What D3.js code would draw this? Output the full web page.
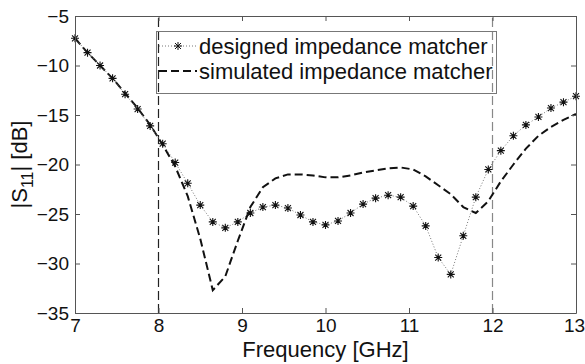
<!DOCTYPE html>
<html>
<head>
<meta charset="utf-8">
<script src="https://cdn.jsdelivr.net/npm/d3@7"></script>
<style>
  body { margin: 0; background: #fff; }
  svg { display: block; font-family: "Liberation Sans", Arial, sans-serif; }
  .tick text { fill: #111; }
</style>
</head>
<body>
<svg id="s11" width="585" height="364"></svg>
<script>
// frequency grid (GHz) shared by both traces
let freqs = [7.00, 7.15, 7.30, 7.45, 7.60, 7.75, 7.90, 8.05, 8.20, 8.35,
             8.50, 8.65, 8.80, 8.95, 9.10, 9.25, 9.40, 9.55, 9.70, 9.85,
             10.00, 10.15, 10.30, 10.45, 10.60, 10.75, 10.90, 11.05, 11.20, 11.35,
             11.50, 11.65, 11.80, 11.95, 12.10, 12.25, 12.40, 12.55, 12.70, 12.85, 13.00];

// |S11| in dB
let designed = [-7.25, -8.7, -10.0, -11.3, -12.9, -14.4, -16.1, -17.9, -19.8, -21.9,
                -24.1, -25.8, -26.4, -25.8, -24.9, -24.3, -24.1, -24.4, -25.1, -25.8,
                -26.1, -25.7, -24.9, -24.0, -23.4, -23.1, -23.3, -24.2, -26.2, -29.4,
                -31.1, -27.2, -23.3, -20.5, -18.6, -17.1, -16.0, -15.2, -14.3, -13.7, -13.1];

let simulated = [-7.25, -8.7, -10.0, -11.3, -12.8, -14.3, -16.0, -18.0, -20.2, -23.2,
                 -27.5, -32.7, -31.3, -27.7, -24.3, -22.3, -21.4, -21.0, -21.0, -21.1,
                 -21.3, -21.3, -21.1, -20.8, -20.6, -20.4, -20.3, -20.5, -21.2, -22.1,
                 -23.0, -24.3, -24.9, -23.7, -21.7, -20.0, -18.4, -17.1, -16.2, -15.5, -14.9];

let xTicks = [7, 8, 9, 10, 11, 12, 13];
let yTicks = [-5, -10, -15, -20, -25, -30, -35];
let bandEdges = [8, 12];
let legendLabels = ['designed impedance matcher', 'simulated impedance matcher'];

let mLeft = 75, mRight = 576, mTop = 16, mBottom = 313;

let xScale = d3.scaleLinear().domain([7, 13]).range([mLeft, mRight]);
let yScale = d3.scaleLinear().domain([-35, -5]).range([mBottom, mTop]);

let svg = d3.select('#s11');

// band edge markers
svg.selectAll('.edge')
  .data(bandEdges)
  .enter()
  .append('line')
  .attr('class', 'edge')
  .attr('x1', (d) => xScale(d))
  .attr('x2', (d) => xScale(d))
  .attr('y1', mBottom)
  .attr('y2', mTop)
  .attr('stroke', (d, i) => i == 0 ? '#222' : '#888')
  .attr('stroke-width', 1.2)
  .attr('stroke-dasharray', '9,4');

let pts = (vals) => freqs.map((f, i) => [f, vals[i]]);
let line = d3.line()
  .x((d) => xScale(d[0]))
  .y((d) => yScale(d[1]));

// simulated trace (dashed)
svg.append('path')
  .datum(pts(simulated))
  .attr('d', line)
  .attr('fill', 'none')
  .attr('stroke', '#111')
  .attr('stroke-width', 2)
  .attr('stroke-dasharray', '8,4');

// designed trace (dotted + star markers)
svg.append('path')
  .datum(pts(designed))
  .attr('d', line)
  .attr('fill', 'none')
  .attr('stroke', '#777')
  .attr('stroke-width', 1)
  .attr('stroke-dasharray', '1,2');

let star = 'M-4,0H4M0,-4V4M-3,-3L3,3M-3,3L3,-3';
svg.selectAll('.mark')
  .data(pts(designed))
  .enter()
  .append('path')
  .attr('class', 'mark')
  .attr('d', star)
  .attr('transform', (d) => `translate(${xScale(d[0])},${yScale(d[1])})`)
  .attr('stroke', '#111')
  .attr('stroke-width', 1.1)
  .attr('fill', 'none');

//AXES - box with inward ticks
let axStyle = (g, size) => {
  g.attr('font-family', null);
  g.selectAll('path.domain').attr('stroke', '#555');
  g.selectAll('.tick line').attr('stroke', '#555');
  g.selectAll('.tick text').attr('font-size', size);
};

let xAxis = d3.axisBottom(xScale).tickValues(xTicks).tickFormat(d3.format('d'))
  .tickSizeInner(-5).tickSizeOuter(0).tickPadding(6);
let xAxisGroup = svg.append('g').attr('transform', `translate(0,${mBottom})`).call(xAxis).call(axStyle, 19);
// keep the last label inside the frame
xAxisGroup.selectAll('.tick text').filter((d) => d == 13).attr('dx', -2);

let xTopAxis = d3.axisTop(xScale).tickValues(xTicks).tickSizeInner(-5).tickSizeOuter(0).tickFormat('');
svg.append('g').attr('transform', `translate(0,${mTop})`).call(xTopAxis).call(axStyle, 19);

let yAxis = d3.axisLeft(yScale).tickValues(yTicks).tickFormat(d3.format('d'))
  .tickSizeInner(-5).tickSizeOuter(0).tickPadding(6);
svg.append('g').attr('transform', `translate(${mLeft},0)`).call(yAxis).call(axStyle, 19);

let yRightAxis = d3.axisRight(yScale).tickValues(yTicks).tickSizeInner(-5).tickSizeOuter(0).tickFormat('');
svg.append('g').attr('transform', `translate(${mRight},0)`).call(yRightAxis).call(axStyle, 19);

// axis labels
svg.append('text')
  .attr('x', (mLeft + mRight) / 2)
  .attr('y', 357)
  .attr('text-anchor', 'middle')
  .attr('font-size', 22)
  .attr('fill', '#111')
  .text('Frequency [GHz]');

let yl = svg.append('text')
  .attr('transform', `translate(27,${(mTop + mBottom) / 2}) rotate(-90)`)
  .attr('text-anchor', 'middle')
  .attr('font-size', 22)
  .attr('fill', '#111');
yl.append('tspan').text('|S');
yl.append('tspan').attr('font-size', 16).attr('dy', 6).text('11');
yl.append('tspan').attr('dy', -6).text('| [dB]');

// legend
let lg = svg.append('g');
lg.append('rect')
  .attr('x', 156.5).attr('y', 31.5)
  .attr('width', 340).attr('height', 62)
  .attr('fill', 'none')
  .attr('stroke', '#777');

let rows = lg.selectAll('.row')
  .data(legendLabels)
  .enter()
  .append('g')
  .attr('transform', (d, i) => `translate(0,${46 + i * 25})`);

rows.append('line')
  .attr('x1', 159).attr('x2', 197)
  .attr('stroke', (d, i) => i == 0 ? '#777' : '#111')
  .attr('stroke-width', (d, i) => i == 0 ? 1 : 2)
  .attr('stroke-dasharray', (d, i) => i == 0 ? '1,2' : '8,4');

rows.filter((d, i) => i == 0)
  .append('path')
  .attr('d', star)
  .attr('transform', 'translate(178,0)')
  .attr('stroke', '#111')
  .attr('fill', 'none');

rows.append('text')
  .attr('x', 199)
  .attr('y', 8)
  .attr('font-size', 22)
  .attr('fill', '#111')
  .text((d) => d);
</script>
</body>
</html>
